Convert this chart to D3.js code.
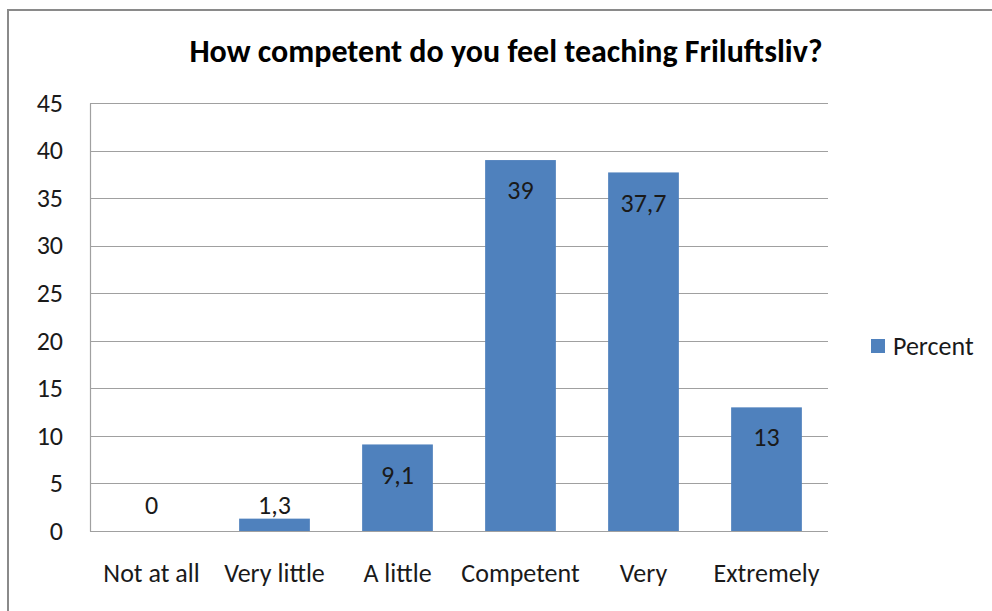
<!DOCTYPE html>
<head>
  <meta charset="utf-8">
  <script src="https://d3js.org/d3.v7.min.js"></script>
  <style>
    body { margin:0; background:#fff; }
    svg { display:block; font-family: Carlito, Lato, "Open Sans", sans-serif; }
  </style>
</head>
<body>
  <div class="chart"></div>
  <script>
    // values
    const categories = ["Not at all", "Very little", "A little", "Competent", "Very", "Extremely"];
    const percent = [0, 1.3, 9.1, 39, 37.7, 13];
    const labels = ["0", "1,3", "9,1", "39", "37,7", "13"];
    const yTicks = [0, 5, 10, 15, 20, 25, 30, 35, 40, 45];
    const title = "How competent do you feel teaching Friluftsliv?";
    const seriesName = "Percent";

    const W = 992, H = 611;
    const plot = {left: 90, right: 828, top: 103, bottom: 531};
    const fs = 26;

    const svg = d3.select(".chart").append("svg")
      .attr("width", W)
      .attr("height", H);

    // outer chart frame (runs off the right and bottom)
    svg.append("rect")
      .attr("x", 8).attr("y", 10)
      .attr("width", W + 20).attr("height", H + 20)
      .attr("fill", "#fff")
      .attr("stroke", "#8a8a8a")
      .attr("stroke-width", 2);

    const x = d3.scaleBand()
      .domain(categories)
      .range([plot.left, plot.right])
      .padding(0);

    const y = d3.scaleLinear()
      .domain([0, 45])
      .range([plot.bottom, plot.top]);

    // gridlines
    svg.append("g")
      .selectAll("line")
      .data(yTicks)
      .enter().append("line")
      .attr("x1", plot.left)
      .attr("x2", plot.right)
      .attr("y1", d => Math.round(y(d)) + 0.5)
      .attr("y2", d => Math.round(y(d)) + 0.5)
      .attr("stroke", "#a0a0a0")
      .attr("stroke-width", 1.2);

    // y axis
    const yAxis = svg.append("g")
      .attr("transform", "translate(" + plot.left + ",0)")
      .call(d3.axisLeft(y).tickValues(yTicks).tickSize(0).tickPadding(27))
      .attr("font-family", null)
      .attr("font-size", fs);
    yAxis.select(".domain").attr("stroke", "#a0a0a0").attr("stroke-width", 1.2);
    yAxis.selectAll("text").attr("fill", "#1a1a1a");

    // x axis labels
    const xAxis = svg.append("g")
      .attr("transform", "translate(0," + plot.bottom + ")")
      .call(d3.axisBottom(x).tickSize(0).tickPadding(33))
      .attr("font-family", null)
      .attr("font-size", fs);
    xAxis.select(".domain").remove();
    xAxis.selectAll("text").attr("fill", "#1a1a1a");

    const barW = x.bandwidth() * 0.575;
    const data = categories.map((c, i) => ({cat: c, v: percent[i], lab: labels[i]}));

    svg.append("g")
      .selectAll("rect")
      .data(data)
      .enter().append("rect")
      .attr("x", d => x(d.cat) + (x.bandwidth() - barW) / 2)
      .attr("y", d => y(d.v))
      .attr("width", barW)
      .attr("height", d => y(0) - y(d.v))
      .attr("fill", "#4f81bd");

    // data labels, inside end or just above the axis for short bars
    svg.append("g")
      .selectAll("text")
      .data(data)
      .enter().append("text")
      .attr("x", d => x(d.cat) + x.bandwidth() / 2)
      .attr("y", d => Math.min(y(d.v) + 30, y(0) - 26))
      .attr("dy", "0.35em")
      .attr("text-anchor", "middle")
      .attr("font-size", fs)
      .attr("fill", "#1a1a1a")
      .text(d => d.lab);

    // title
    svg.append("text")
      .attr("x", 506)
      .attr("y", 62)
      .attr("text-anchor", "middle")
      .attr("font-size", 32)
      .attr("font-weight", "bold")
      .attr("fill", "#000")
      .text(title);

    // legend
    const legend = svg.append("g").attr("transform", "translate(871,339)");
    legend.append("rect")
      .attr("width", 14).attr("height", 14)
      .attr("fill", "#4f81bd");
    legend.append("text")
      .attr("x", 22).attr("y", 7)
      .attr("dy", "0.35em")
      .attr("font-size", fs)
      .attr("fill", "#1a1a1a")
      .text(seriesName);
  </script>
</body>
